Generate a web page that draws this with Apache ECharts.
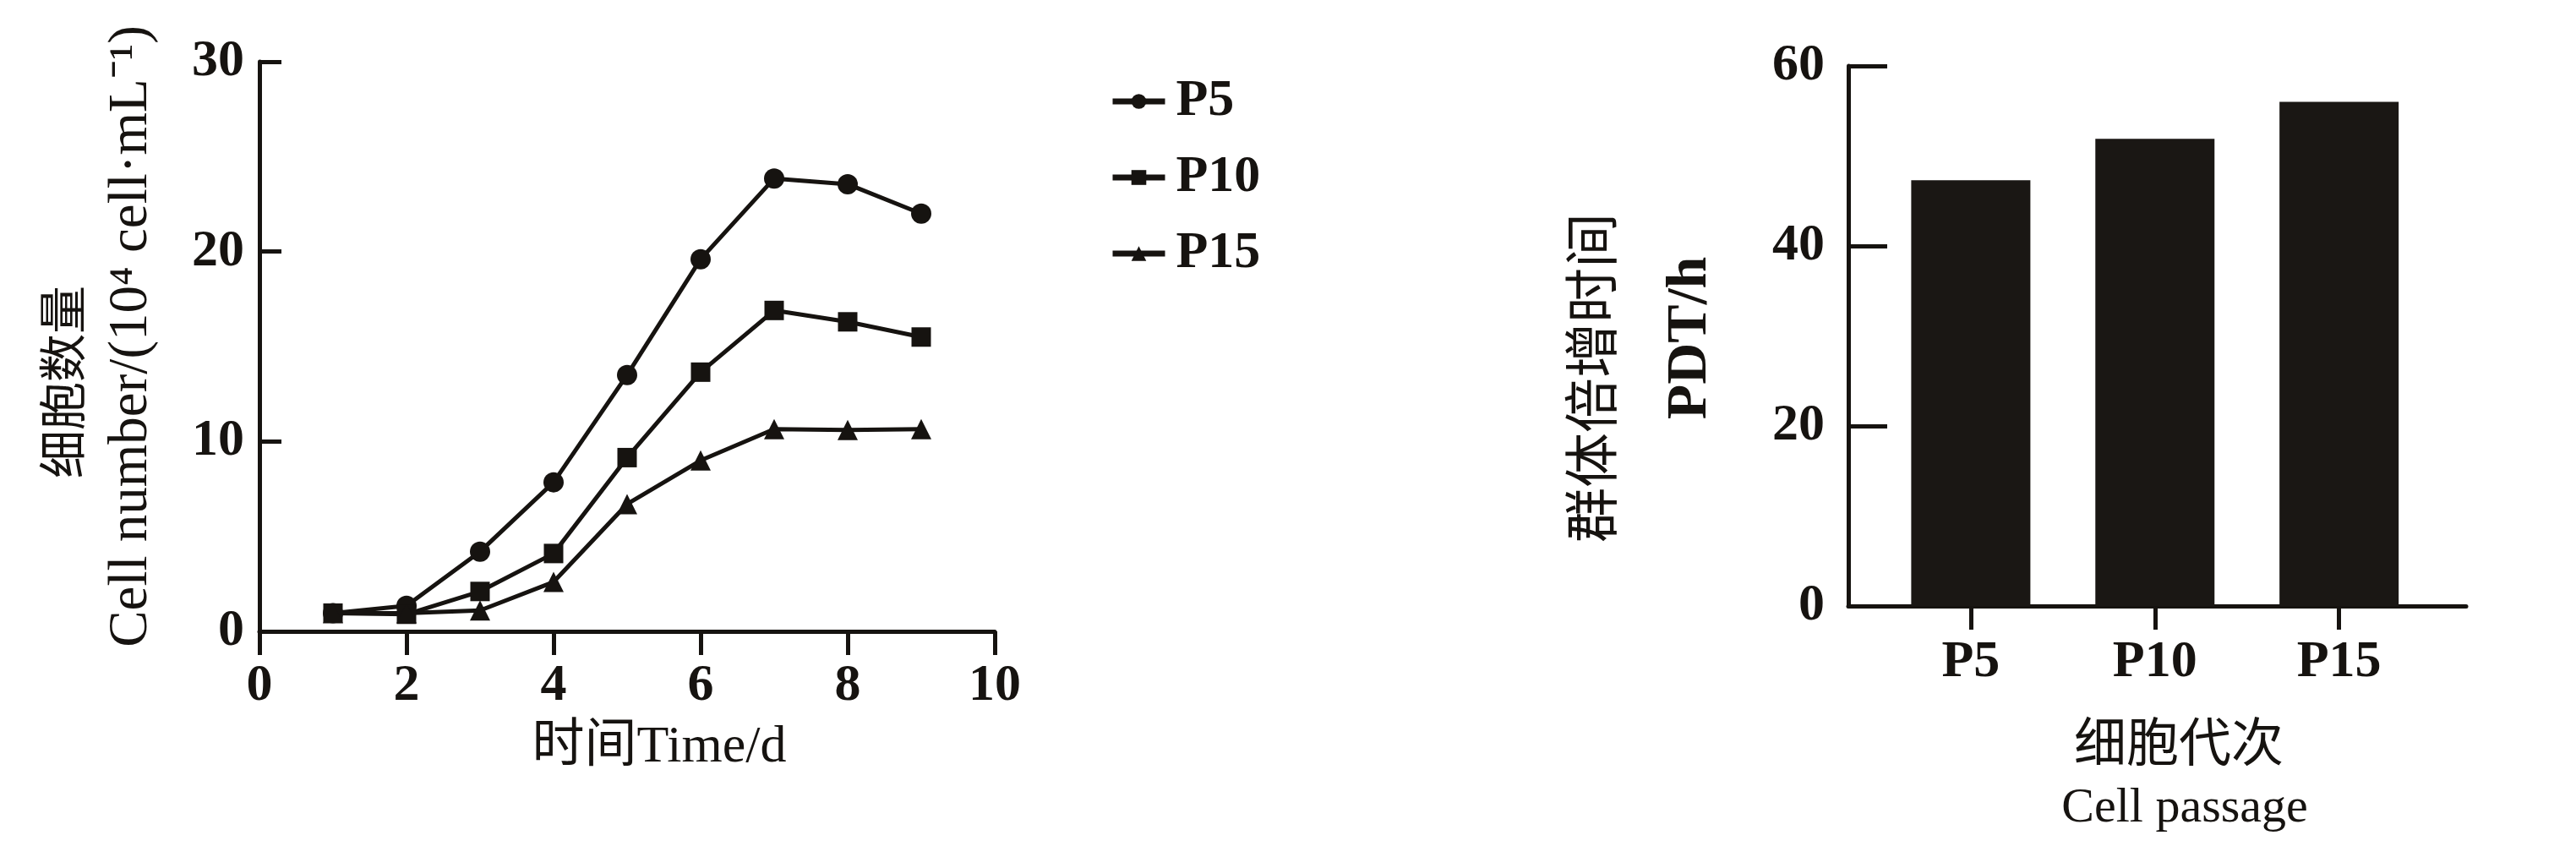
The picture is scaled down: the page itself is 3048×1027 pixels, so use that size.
<!DOCTYPE html>
<html>
<head>
<meta charset="utf-8">
<script src="https://cdn.jsdelivr.net/npm/echarts@6/dist/echarts.min.js"></script>
<style>
html,body{margin:0;padding:0;background:#fff;}
#c{width:3048px;height:1027px;}
</style>
</head>
<body>
<div id="c"></div>
<script>
// ---- data ----
const days = [1, 2, 3, 4, 5, 6, 7, 8, 9];
const p5 = [0.96, 1.35, 4.2, 7.85, 13.5, 19.6, 23.85, 23.55, 22.0];
const p10 = [0.96, 0.9, 2.1, 4.1, 9.15, 13.65, 16.9, 16.3, 15.5];
const p15 = [0.96, 0.96, 1.1, 2.6, 6.7, 9.0, 10.65, 10.6, 10.65];
const seriesNames = ['P5', 'P10', 'P15'];
const passages = ['P5', 'P10', 'P15'];
const pdt = [47.3, 51.9, 56.0];

const FONT = '"Liberation Serif", "Times New Roman", "Noto Sans CJK SC", serif';
const INK = '#161310';

const chart = echarts.init(document.getElementById('c'), null, {renderer: 'canvas'});

function pairs(xs, ys) { return xs.map((x, i) => [x, ys[i]]); }

const lineCommon = {
  type: 'line',
  xAxisIndex: 0, yAxisIndex: 0,
  lineStyle: {color: INK, width: 5},
  itemStyle: {color: INK},
  showSymbol: true,
  animation: false
};

const option = {
  animation: false,
  backgroundColor: '#fff',
  grid: [
    {left: 307, top: 73, width: 870, height: 674, containLabel: false},
    {left: 2187, top: 78, width: 731, height: 639, containLabel: false}
  ],
  legend: {
    orient: 'vertical',
    left: 1308,
    top: 84,
    itemWidth: 62,
    itemHeight: 22,
    itemGap: 28,
    data: seriesNames,
    lineStyle: {width: 7},
    textStyle: {fontFamily: FONT, fontSize: 62, fontWeight: 'bold', color: INK, padding: [0, 0, 0, 8]}
  },
  xAxis: [
    {
      gridIndex: 0, type: 'value', min: 0, max: 10, interval: 2,
      axisLine: {show: true, lineStyle: {color: INK, width: 5}},
      axisTick: {show: true, inside: false, length: 28, lineStyle: {color: INK, width: 5}},
      axisLabel: {fontFamily: FONT, fontSize: 62, fontWeight: 'bold', color: INK, margin: 34},
      splitLine: {show: false}
    },
    {
      gridIndex: 1, type: 'value', min: 0.335, max: 3.69,
      axisLine: {show: true, lineStyle: {color: INK, width: 5}},
      axisTick: {show: true, inside: false, length: 28, lineStyle: {color: INK, width: 5}, customValues: [1, 2, 3]},
      axisLabel: {fontFamily: FONT, fontSize: 62, fontWeight: 'bold', color: INK, margin: 36,
        customValues: [1, 2, 3],
        formatter: v => passages[Math.round(v) - 1] || ''},
      splitLine: {show: false}
    }
  ],
  yAxis: [
    {
      gridIndex: 0, type: 'value', min: 0, max: 30, interval: 10,
      axisLine: {show: true, lineStyle: {color: INK, width: 5}},
      axisTick: {show: true, inside: true, length: 26, lineStyle: {color: INK, width: 5}},
      axisLabel: {fontFamily: FONT, fontSize: 62, fontWeight: 'bold', color: INK, margin: 18},
      splitLine: {show: false}
    },
    {
      gridIndex: 1, type: 'value', min: 0, max: 60, interval: 20,
      axisLine: {show: true, lineStyle: {color: INK, width: 5}},
      axisTick: {show: true, inside: true, length: 46, lineStyle: {color: INK, width: 5}},
      axisLabel: {fontFamily: FONT, fontSize: 62, fontWeight: 'bold', color: INK, margin: 28},
      splitLine: {show: false}
    }
  ],
  series: [
    Object.assign({}, lineCommon, {name: seriesNames[0], symbol: 'circle', symbolSize: 24, data: pairs(days, p5)}),
    Object.assign({}, lineCommon, {name: seriesNames[1], symbol: 'rect', symbolSize: 23, data: pairs(days, p10)}),
    Object.assign({}, lineCommon, {name: seriesNames[2], symbol: 'triangle', symbolSize: 24, data: pairs(days, p15)}),
    {
      type: 'bar', xAxisIndex: 1, yAxisIndex: 1,
      barWidth: 141,
      itemStyle: {color: '#1a1714'},
      data: pairs([1, 2, 3], pdt),
      animation: false
    }
  ],
  graphic: [
    {type: 'text', x: 80, y: 452, rotation: Math.PI / 2,
      style: {text: '细胞数量', fontFamily: FONT, fontSize: 57, fill: INK, align: 'center', verticalAlign: 'middle'}},
    {type: 'text', x: 156, y: 398, rotation: Math.PI / 2,
      style: {text: 'Cell number/(10⁴ cell·mL⁻¹)', fontFamily: FONT, fontSize: 65, fill: INK, align: 'center', verticalAlign: 'middle'}},
    {type: 'text', x: 780, y: 885,
      style: {text: '时间Time/d', fontFamily: FONT, fontSize: 62, fill: INK, align: 'center', verticalAlign: 'middle'}},
    {type: 'text', x: 1890, y: 447, rotation: Math.PI / 2,
      style: {text: '群体倍增时间', fontFamily: FONT, fontSize: 65, fill: INK, align: 'center', verticalAlign: 'middle'}},
    {type: 'text', x: 2000, y: 400, rotation: Math.PI / 2,
      style: {text: 'PDT/h', fontFamily: FONT, fontSize: 68, fontWeight: 'bold', fill: INK, align: 'center', verticalAlign: 'middle'}},
    {type: 'text', x: 2578, y: 885,
      style: {text: '细胞代次', fontFamily: FONT, fontSize: 62, fill: INK, align: 'center', verticalAlign: 'middle'}},
    {type: 'text', x: 2585, y: 957,
      style: {text: 'Cell passage', fontFamily: FONT, fontSize: 58, fill: INK, align: 'center', verticalAlign: 'middle'}}
  ]
};
chart.setOption(option);
</script>
</body>
</html>
